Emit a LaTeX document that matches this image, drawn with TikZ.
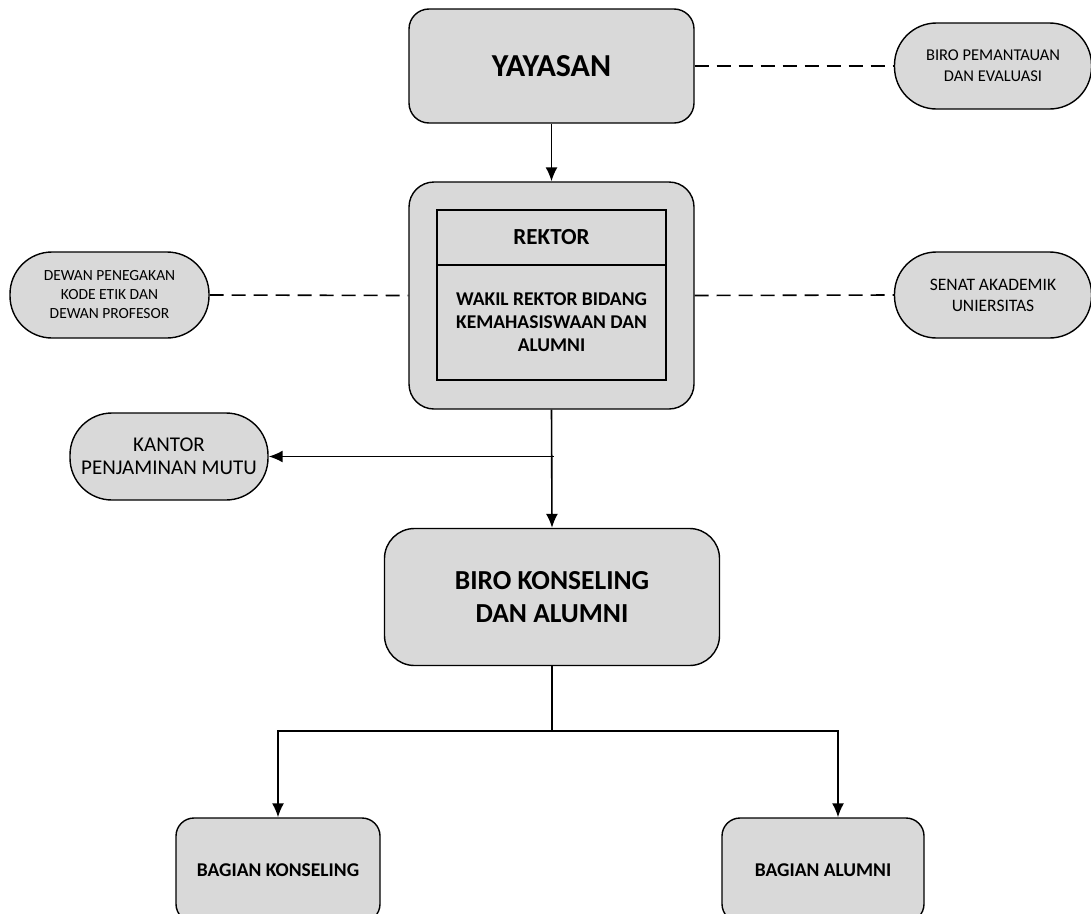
\documentclass[tikz,border=0pt]{standalone}
\usepackage{fontspec}
\setmainfont{Carlito}
\usepackage{tikz}
\usetikzlibrary{arrows.meta}

\definecolor{boxgray}{RGB}{217,217,217}

\tikzset{
  unit/.style={draw, line width=1.4pt, fill=boxgray, align=center, inner sep=0pt},
  mainbox/.style={unit, rounded corners=#1, font=\bfseries},
  pill/.style={unit, rounded corners=42pt, minimum width=197pt, minimum height=86pt},
  innerbox/.style={draw, line width=1.4pt, minimum width=229pt, align=center, inner sep=0pt, font=\bfseries},
  dashline/.style={line width=1.6pt, dash pattern=on 14pt off 8pt},
  arr/.style={line width=1.6pt, -{Latex[length=14pt,width=12pt]}}
}

\begin{document}
\begin{tikzpicture}[x=1pt,y=-1pt]
  \useasboundingbox (0,0) rectangle (1091,913);

  % top level
  \node[mainbox=20pt, minimum width=285pt, minimum height=114pt, font=\bfseries\fontsize{32}{36}\selectfont] (yayasan) at (551.5,66) {YAYASAN};
  \node[pill, font=\fontsize{16.5}{21}\selectfont] (pemantauan) at (993,66) {BIRO PEMANTAUAN\\DAN EVALUASI};

  % rektor block
  \node[mainbox=25pt, minimum width=285pt, minimum height=227pt] (rektor) at (551.5,295.5) {};
  \node[innerbox, minimum height=55pt, font=\bfseries\fontsize{23}{27}\selectfont] (rektorname) at (551.5,237.5) {REKTOR};
  \node[innerbox, minimum height=115pt, font=\bfseries\fontsize{19.5}{23}\selectfont] (wakil) at (551.5,322.5) {WAKIL REKTOR BIDANG\\KEMAHASISWAAN DAN\\ALUMNI};
  \node[pill, minimum width=199pt, font=\fontsize{15.5}{19}\selectfont] (dewan) at (109.5,295) {DEWAN PENEGAKAN\\KODE ETIK DAN\\DEWAN PROFESOR};
  \node[pill, font=\fontsize{17.5}{21}\selectfont] (senat) at (993,295) {SENAT AKADEMIK\\UNIERSITAS};
  \node[pill, minimum width=198pt, minimum height=87pt, font=\fontsize{21}{23}\selectfont] (kantor) at (169,456.5) {KANTOR\\PENJAMINAN MUTU};

  % biro and bagian
  \node[mainbox=30pt, minimum width=335pt, minimum height=137pt, font=\bfseries\fontsize{27.5}{33}\selectfont] (biro) at (552,597) {BIRO KONSELING\\DAN ALUMNI};
  \node[mainbox=18pt, minimum width=204pt, minimum height=104pt, font=\bfseries\fontsize{19.5}{22}\selectfont] (konseling) at (278,870) {BAGIAN KONSELING};
  \node[mainbox=18pt, minimum width=202pt, minimum height=104pt, font=\bfseries\fontsize{19.5}{22}\selectfont] (alumni) at (823,870) {BAGIAN ALUMNI};

  % helper points
  \coordinate (kjoin) at (rektor.south |- kantor.east);
  \coordinate (split) at (552,731);
  \coordinate (alumnitop) at ([xshift=15pt]alumni.north);

  % connectors
  \draw[dashline] (yayasan.east) -- (pemantauan.west);
  \draw[dashline] (dewan.east) -- (rektor.west);
  \draw[dashline] (rektor.east) -- (senat.west);
  \draw[arr] (yayasan.south) -- (rektor.north);
  \draw[arr] (rektor.south) -- (biro.north);
  \draw[arr] ([xshift=2pt]kjoin) -- (kantor.east);
  \draw[line width=1.4pt] (biro.south) -- (split);
  \draw[arr] (split) -| (konseling.north);
  \draw[arr] (split) -| (alumnitop);
\end{tikzpicture}
\end{document}
